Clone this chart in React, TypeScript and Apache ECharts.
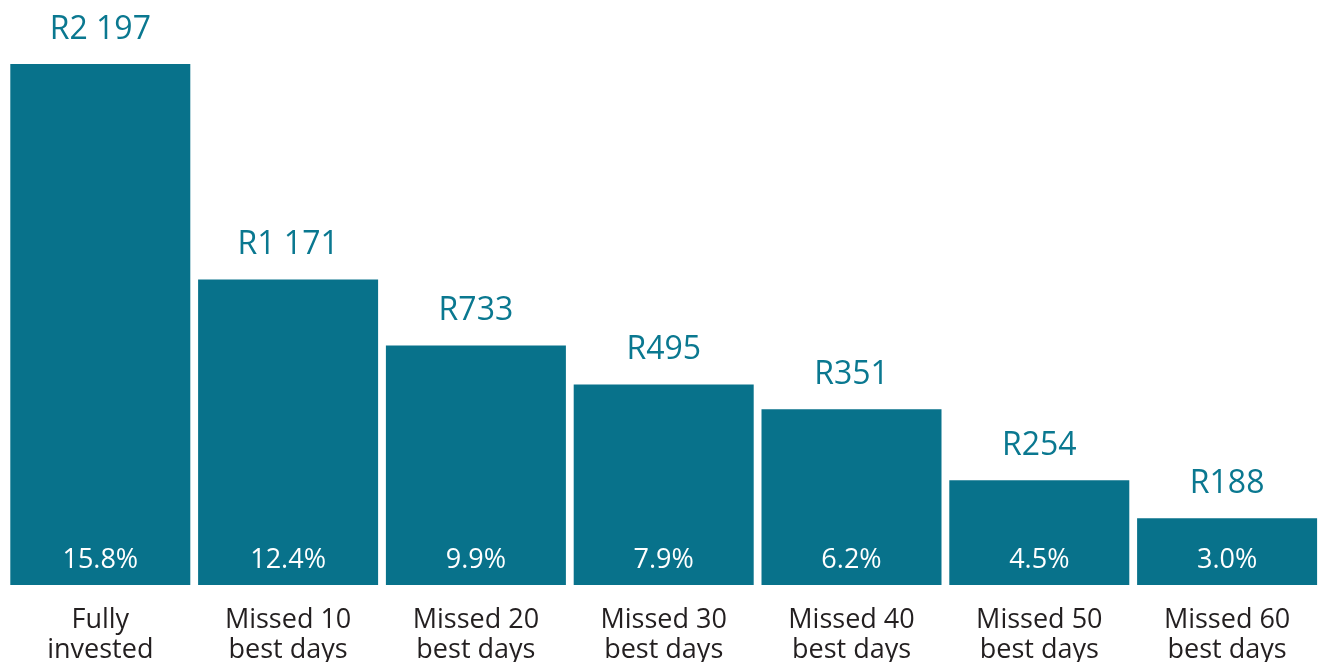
import React, { useEffect, useRef } from "react";
import * as echarts from "echarts";

const categories = [
  "Fully\ninvested",
  "Missed 10\nbest days",
  "Missed 20\nbest days",
  "Missed 30\nbest days",
  "Missed 40\nbest days",
  "Missed 50\nbest days",
  "Missed 60\nbest days",
];
// Ending values shown above each bar
const valueLabels = ["R2 197", "R1 171", "R733", "R495", "R351", "R254", "R188"];
// Annualised returns shown inside each bar
const returnLabels = ["15.8%", "12.4%", "9.9%", "7.9%", "6.2%", "4.5%", "3.0%"];
// Bar heights as drawn in the picture (arbitrary units)
const barLevels = [522, 306, 240, 201, 176, 105, 67];

const BAR = "#08728b";
const TEAL_TEXT = "#0a7890";
const FONT = "'Open Sans', sans-serif";

export default function App() {
  const ref = useRef<HTMLDivElement>(null);
  useEffect(() => {
    if (!ref.current) return;
    document.body.style.margin = "0";
    document.body.style.overflow = "hidden";
    const chart = echarts.init(ref.current, undefined, { renderer: "svg" });
    chart.setOption({
      animation: false,
      grid: { left: 6.4, width: 1318.3, top: 64, bottom: 76, containLabel: false },
      xAxis: {
        type: "category",
        data: categories,
        axisLine: { show: false },
        axisTick: { show: false },
        axisLabel: {
          color: "#231f20",
          fontFamily: FONT,
          fontSize: 27,
          lineHeight: 30,
          margin: 17,
          interval: 0,
        },
      },
      yAxis: {
        type: "value",
        min: 0,
        max: 522,
        show: false,
        splitLine: { show: false },
      },
      series: [
        {
          type: "bar",
          data: barLevels,
          barWidth: 180,
          itemStyle: { color: BAR },
          label: {
            show: true,
            position: "top",
            distance: 22,
            color: TEAL_TEXT,
            fontFamily: FONT,
            fontSize: 32,
            formatter: (p: any) => valueLabels[p.dataIndex],
          },
        },
        {
          type: "bar",
          data: barLevels,
          barWidth: 180,
          barGap: "-100%",
          itemStyle: { color: "transparent" },
          label: {
            show: true,
            position: "insideBottom",
            distance: 14,
            color: "#ffffff",
            fontFamily: FONT,
            fontSize: 27,
            formatter: (p: any) => returnLabels[p.dataIndex],
          },
          silent: true,
        },
      ],
    });
    return () => chart.dispose();
  }, []);
  return (
    <div
      ref={ref}
      style={{ position: "fixed", left: 0, top: 0, width: 1321, height: 662 }}
    />
  );
}
